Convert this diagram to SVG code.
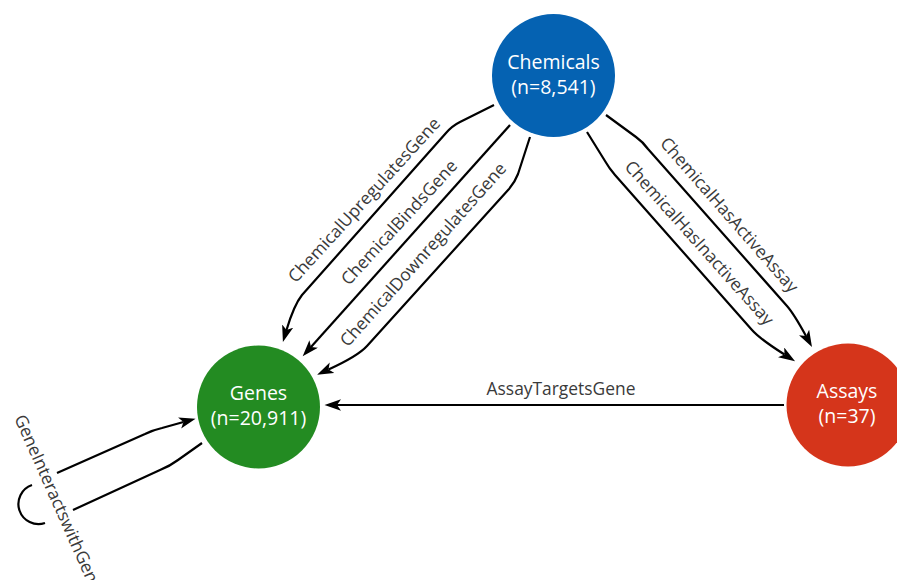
<svg xmlns="http://www.w3.org/2000/svg" width="897" height="580" viewBox="0 0 897 580">
  <style>
    .node-label { font-family: "Open Sans", "Liberation Sans", sans-serif; font-size: 19.5px; fill: #ffffff; text-anchor: middle; }
    .edge { fill: none; stroke: #000000; stroke-width: 2.2; stroke-linejoin: round; }
    .edge-arrow { marker-end: url(#arrow); }
    .edge-label { font-family: "Open Sans", "Liberation Sans", sans-serif; font-size: 17.4px; fill: #3a3a3a; text-anchor: middle; }
  </style>
  <defs>
    <marker id="arrow" markerUnits="userSpaceOnUse" markerWidth="18" markerHeight="13" refX="4" refY="5.75" orient="auto">
      <path d="M0,0 L16.5,5.75 L0,11.5 L4,5.75 Z" fill="#000000"/>
    </marker>
  </defs>
  <rect width="897" height="580" fill="#ffffff"/>

  <!-- connectors -->
  <g id="edges">
    <g id="edge-upregulates">
      <path class="edge edge-arrow" d="M494,105 L460,122 Q452,126 446,133 L302,295 Q294,305 286.5,330"/>
      <text class="edge-label" transform="translate(368.5,204) rotate(-47.6)">ChemicalUpregulatesGene</text>
    </g>
    <g id="edge-binds">
      <path class="edge edge-arrow" d="M510,125 L311,347"/>
      <text class="edge-label" transform="translate(403.5,226.5) rotate(-47.5)">ChemicalBindsGene</text>
    </g>
    <g id="edge-downregulates">
      <path class="edge edge-arrow" d="M530,137 L518,174 Q515,182 509,189 L367,346 Q358,356 328.5,369.5"/>
      <text class="edge-label" transform="translate(427.5,258.5) rotate(-48.2)">ChemicalDownregulatesGene</text>
    </g>
    <g id="edge-active">
      <path class="edge edge-arrow" d="M606,115 L636,137 Q643,142 648,149 L787,306 Q794,314 806,336"/>
      <text class="edge-label" transform="translate(724.8,218.8) rotate(48.8)">ChemicalHasActiveAssay</text>
    </g>
    <g id="edge-inactive">
      <path class="edge edge-arrow" d="M587,132 L605,161 Q609,168 615,175 L752,330 Q760,339 784.5,354.5"/>
      <text class="edge-label" transform="translate(694.8,246.8) rotate(48.2)">ChemicalHasInactiveAssay</text>
    </g>
    <g id="edge-targets">
      <path class="edge edge-arrow" d="M784,405 L337,405"/>
      <text class="edge-label" x="561" y="395">AssayTargetsGene</text>
    </g>
    <g id="edge-interacts">
      <path class="edge" d="M202,443 L178,460 Q170,466 160,470 L73,510"/>
      <path class="edge" d="M45,523 A20,20 0 1 1 32,485"/>
      <path class="edge edge-arrow" d="M57,473 L145,434 Q153,430 162,428 L183.5,422"/>
      <text class="edge-label" style="text-anchor:start" transform="translate(14,418) rotate(66)">GeneInteractswithGene</text>
    </g>
  </g>

  <!-- nodes -->
  <g id="node-chemicals">
    <circle cx="553.5" cy="75.5" r="61.5" fill="#0562b2"/>
    <text class="node-label" x="553.5" y="68.5">Chemicals</text>
    <text class="node-label" x="553.5" y="93.5">(n=8,541)</text>
  </g>
  <g id="node-genes">
    <circle cx="258.5" cy="407" r="61.5" fill="#238b22"/>
    <text class="node-label" x="258.5" y="400">Genes</text>
    <text class="node-label" x="258.5" y="425">(n=20,911)</text>
  </g>
  <g id="node-assays">
    <circle cx="848" cy="405" r="61.5" fill="#d5351b"/>
    <text class="node-label" x="847" y="398">Assays</text>
    <text class="node-label" x="847" y="423">(n=37)</text>
  </g>
</svg>
